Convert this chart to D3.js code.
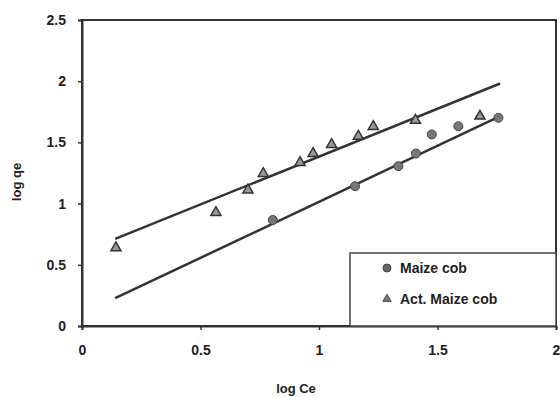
<!DOCTYPE html>
<html>
<head>
<meta charset="utf-8">
<script src="https://cdn.jsdelivr.net/npm/d3@7"></script>
<style>
  body { margin: 0; background: #fff; }
  text { font-family: "Liberation Sans", Arial, sans-serif; fill: #222; }
</style>
</head>
<body>
<div id="chart"></div>
<script>
// Data
var maizeX = [0.805, 1.152, 1.335, 1.409, 1.476, 1.588, 1.757];
var maizeY = [0.866, 1.142, 1.306, 1.409, 1.565, 1.632, 1.701];

var actX = [0.143, 0.565, 0.700, 0.765, 0.920, 0.975, 1.053, 1.166, 1.229, 1.407, 1.679];
var actY = [0.639, 0.927, 1.111, 1.246, 1.336, 1.409, 1.483, 1.55, 1.63, 1.681, 1.714];

// Trend lines (end points)
var fitX = [0.14, 1.764];
var fitMaize = [0.227, 1.714];
var fitAct = [0.712, 1.981];

var xTicks = [0, 0.5, 1, 1.5, 2];
var yTicks = [0, 0.5, 1, 1.5, 2, 2.5];

var svgWidth = 560, svgHeight = 397;
var margin = { top: 20, right: 4, bottom: 71, left: 82 };
var width = svgWidth - margin.left - margin.right;
var height = svgHeight - margin.top - margin.bottom;

var svg = d3.select("#chart").append("svg")
  .attr("width", svgWidth)
  .attr("height", svgHeight);

var chartGroup = svg.append("g")
  .attr("transform", `translate(${margin.left}, ${margin.top})`);

var xScale = d3.scaleLinear().domain([0, 2]).range([0, width]);
var yScale = d3.scaleLinear().domain([0, 2.5]).range([height, 0]);

// frame
chartGroup.append("rect")
  .attr("width", width).attr("height", height)
  .attr("fill", "none").attr("stroke", "#333").attr("stroke-width", 2);

var xAxis = d3.axisBottom(xScale).tickValues(xTicks).tickSize(4).tickFormat(d3.format("~g"));
var yAxis = d3.axisLeft(yScale).tickValues(yTicks).tickSize(4).tickFormat(d3.format("~g"));

var gx = chartGroup.append("g")
  .attr("transform", `translate(0,${height})`)
  .call(xAxis);
var gy = chartGroup.append("g").call(yAxis);

[gx, gy].forEach(function (g) {
  g.select(".domain").attr("stroke", "#333").attr("stroke-width", 2);
  g.selectAll(".tick line").attr("stroke", "#333").attr("stroke-width", 1.5);
  g.selectAll(".tick text").attr("font-size", 14).attr("font-weight", "bold")
    .attr("fill", "#333").style("font-family", "'Liberation Sans', Arial, sans-serif");
});
gx.selectAll(".tick text").attr("y", 19);
gy.selectAll(".tick text").attr("x", -16);

// trend lines
var line = d3.line().x(function (d) { return xScale(d[0]); }).y(function (d) { return yScale(d[1]); });
chartGroup.append("path")
  .attr("d", line(d3.zip(fitX, fitAct)))
  .attr("fill", "none").attr("stroke", "#333").attr("stroke-width", 2.5);
chartGroup.append("path")
  .attr("d", line(d3.zip(fitX, fitMaize)))
  .attr("fill", "none").attr("stroke", "#333").attr("stroke-width", 2.5);

// markers
var tri = d3.symbol().type(d3.symbolTriangle).size(44);
chartGroup.selectAll(".act")
  .data(d3.zip(actX, actY))
  .enter().append("path")
  .attr("class", "act")
  .attr("d", tri)
  .attr("transform", function (d) { return `translate(${xScale(d[0])},${yScale(d[1])})`; })
  .attr("fill", "#999").attr("stroke", "#333").attr("stroke-width", 1.5);

chartGroup.selectAll(".maize")
  .data(d3.zip(maizeX, maizeY))
  .enter().append("circle")
  .attr("class", "maize")
  .attr("cx", function (d) { return xScale(d[0]); })
  .attr("cy", function (d) { return yScale(d[1]); })
  .attr("r", 4.5)
  .attr("fill", "#777").attr("stroke", "#444").attr("stroke-width", 1);

// legend
var legend = chartGroup.append("g").attr("transform", `translate(${350 - margin.left},${253 - margin.top})`);
legend.append("rect")
  .attr("width", 556 - 350).attr("height", 326 - 253)
  .attr("fill", "#fff").attr("stroke", "#444").attr("stroke-width", 1.5);
legend.append("circle").attr("cx", 37).attr("cy", 15).attr("r", 4)
  .attr("fill", "#666").attr("stroke", "#444");
legend.append("path").attr("d", d3.symbol().type(d3.symbolTriangle).size(30))
  .attr("transform", "translate(37,46)")
  .attr("fill", "#777").attr("stroke", "#444");
legend.append("text").attr("x", 50).attr("y", 20).attr("font-size", 14).attr("font-weight", "600").text("Maize cob");
legend.append("text").attr("x", 50).attr("y", 51).attr("font-size", 14).attr("font-weight", "600").text("Act. Maize cob");

// axis titles
svg.append("text")
  .attr("x", 296).attr("y", 393)
  .attr("text-anchor", "middle").attr("font-size", 13).attr("font-weight", "600")
  .text("log Ce");
svg.append("text")
  .attr("transform", "translate(21,182)rotate(-90)")
  .attr("text-anchor", "middle").attr("font-size", 13).attr("font-weight", "600")
  .text("log qe");
</script>
</body>
</html>
